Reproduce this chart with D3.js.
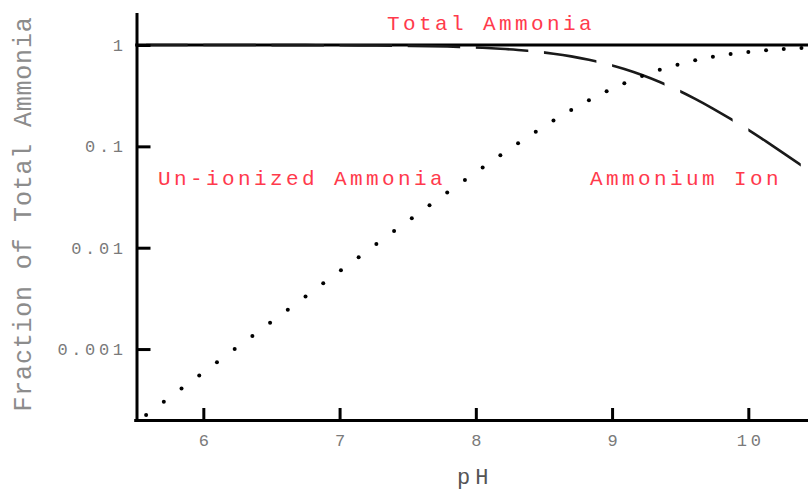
<!DOCTYPE html>
<html>
<head>
<meta charset="utf-8">
<script src="https://cdn.jsdelivr.net/npm/d3@7"></script>
<style>
  html, body { margin: 0; padding: 0; background: #fff; }
  svg { display: block; }
</style>
</head>
<body>
<svg id="chart" width="808" height="491"></svg>
<script>
// ---- Data ----
const pHValues = [5.58, 5.71, 5.84, 5.97, 6.10, 6.23, 6.36, 6.49, 6.62, 6.75,
                  6.88, 7.01, 7.14, 7.27, 7.40, 7.53, 7.66, 7.79, 7.92, 8.05,
                  8.18, 8.31, 8.44, 8.57, 8.70, 8.83, 8.96, 9.09, 9.22, 9.35,
                  9.48, 9.61, 9.74, 9.87, 10.00, 10.13, 10.26, 10.39];
const unionizedValues = [0.000224, 0.000302, 0.000407, 0.000549, 0.000741, 0.000999,
                  0.001347, 0.001817, 0.002449, 0.0033, 0.00445, 0.00599, 0.00806,
                  0.01085, 0.01458, 0.01956, 0.02621, 0.03504, 0.04669, 0.06197,
                  0.08183, 0.10732, 0.13955, 0.1795, 0.22786, 0.28474, 0.34937,
                  0.42001, 0.49424, 0.5686, 0.6401, 0.7058, 0.7639, 0.8136,
                  0.8548, 0.8882, 0.9146, 0.9353];
const ammoniumValues = [0.99978, 0.9997, 0.99959, 0.99945, 0.99926, 0.999,
                  0.99865, 0.99818, 0.99755, 0.9967, 0.99555, 0.99401, 0.99194,
                  0.98915, 0.98542, 0.98044, 0.97379, 0.96496, 0.95331, 0.93803,
                  0.91817, 0.89268, 0.86045, 0.8205, 0.77214, 0.71526, 0.65063,
                  0.57999, 0.50576, 0.4314, 0.3599, 0.2942, 0.2361, 0.1864,
                  0.1452, 0.1118, 0.0854, 0.0647];
const totalPH = [5.5, 10.5];
const totalValues = [1, 1];
const xTickValues = [6, 7, 8, 9, 10];
const xTickLabels = ["6", "7", "8", "9", "10"];
const yTickValues = [1, 0.1, 0.01, 0.001];
const yTickLabels = ["1", "0.1", "0.01", "0.001"];
const seriesLabels = ["Total Ammonia", "Un-ionized Ammonia", "Ammonium Ion"];
const xTitle = "pH";
const yTitle = "Fraction of Total Ammonia";

// ---- Layout / style ----
const svg = d3.select("#chart");
const mono = "'Liberation Mono', 'DejaVu Sans Mono', monospace";
const red = "#ff3a4c";

const x = d3.scaleLinear().domain([5.5, 10.5]).range([135.2, 816.45]);
const y = d3.scaleLog().domain([Math.pow(10, -3.7), Math.pow(10, 0.3059)]).range([420, 14]);

// ---- Series ----
// Total ammonia line
svg.append("path")
  .datum(totalPH.map((p, i) => [p, totalValues[i]]))
  .attr("fill", "none")
  .attr("stroke", "#000")
  .attr("stroke-width", 3)
  .attr("d", d3.line().x(d => x(d[0])).y(d => y(d[1])));

// Ammonium ion dashed line (dashes of fixed pH width)
const dashStarts = d3.range(5.5, 10.5, 0.5);
const clip = svg.append("defs").append("clipPath").attr("id", "dashclip");
clip.selectAll("rect").data(dashStarts).join("rect")
  .attr("x", d => x(d))
  .attr("width", d => x(d + 0.385) - x(d))
  .attr("y", 0).attr("height", 491);

svg.append("path")
  .datum(pHValues.map((p, i) => [p, ammoniumValues[i]]))
  .attr("clip-path", "url(#dashclip)")
  .attr("fill", "none")
  .attr("stroke", "#1a1a1a")
  .attr("stroke-width", 2.6)
  .attr("d", d3.line().curve(d3.curveMonotoneX).x(d => x(d[0])).y(d => y(d[1])));

// Un-ionized ammonia dotted series
svg.append("g").selectAll("circle")
  .data(pHValues.map((p, i) => [p, unionizedValues[i]]))
  .join("circle")
  .attr("cx", d => x(d[0]))
  .attr("cy", d => y(d[1]))
  .attr("r", 2)
  .attr("fill", "#000");

// ---- Axes ----
const xAxis = d3.axisBottom(x)
  .tickValues(xTickValues)
  .tickFormat((d, i) => xTickLabels[i])
  .tickSizeInner(-12).tickSizeOuter(0).tickPadding(14);
const gx = svg.append("g").attr("transform", "translate(0,420)").call(xAxis);

const yAxis = d3.axisLeft(y)
  .tickValues(yTickValues)
  .tickFormat((d, i) => yTickLabels[i])
  .tickSizeInner(-14).tickSizeOuter(0).tickPadding(10);
const gy = svg.append("g").attr("transform", "translate(136.5,0)").call(yAxis);

[gx, gy].forEach(g => {
  g.select(".domain").attr("stroke", "#000").attr("stroke-width", 3).attr("stroke-linecap", "square");
  g.selectAll(".tick line").attr("stroke", "#000").attr("stroke-width", 3);
  g.selectAll(".tick text")
    .attr("font-family", mono)
    .attr("font-size", 17)
    .attr("letter-spacing", "3.6px")
    .attr("fill", "#7a7a7a");
});
gx.selectAll(".tick text").attr("dx", "1.8px");

// ---- Titles ----
svg.append("text")
  .attr("transform", "translate(31,214) rotate(-90)")
  .attr("text-anchor", "middle")
  .attr("font-family", mono)
  .attr("font-size", 25)
  .attr("letter-spacing", "0.8px")
  .attr("fill", "#8c8c8c")
  .text(yTitle);

svg.append("text")
  .attr("x", 457).attr("y", 484)
  .attr("font-family", mono)
  .attr("font-size", 22)
  .attr("letter-spacing", "5px")
  .attr("fill", "#555")
  .text(xTitle);

// ---- Series labels ----
const labelPos = [[387, 30], [158, 185], [590, 185]];
svg.append("g").selectAll("text")
  .data(seriesLabels)
  .join("text")
  .attr("x", (d, i) => labelPos[i][0])
  .attr("y", (d, i) => labelPos[i][1])
  .attr("font-family", mono)
  .attr("font-size", 21)
  .attr("letter-spacing", "3.4px")
  .attr("fill", red)
  .text(d => d);
</script>
</body>
</html>
